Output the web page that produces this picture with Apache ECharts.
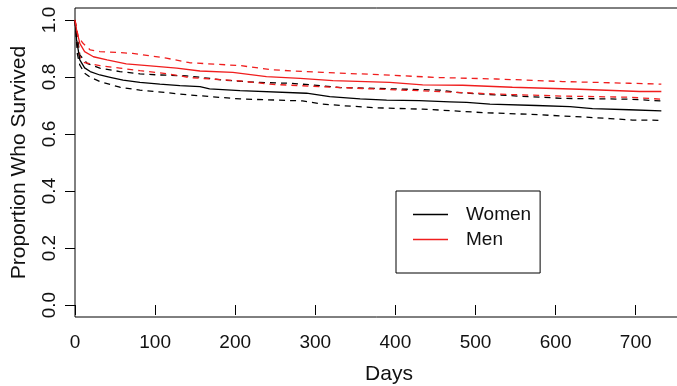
<!DOCTYPE html>
<html>
<head>
<meta charset="utf-8">
<script src="https://cdn.jsdelivr.net/npm/echarts@6/dist/echarts.min.js"></script>
<style>
  html, body { margin: 0; padding: 0; background: #fff; }
  #chart { width: 677px; height: 386px; }
</style>
</head>
<body>
<div id="chart"></div>
<script>
// Kaplan-Meier survival estimates with 95% confidence bands, [day, proportion]
const womenSurv = [[0,1],[2,0.93],[4,0.895],[6,0.86],[12,0.832],[19,0.819],[31,0.807],[44,0.799],[60,0.789],[81,0.781],[106,0.775],[131,0.770],[156,0.766],[168,0.758],[206,0.752],[289,0.743],[318,0.731],[356,0.723],[389,0.719],[430,0.717],[468,0.713],[489,0.711],[518,0.705],[576,0.700],[618,0.696],[646,0.689],[692,0.685],[732,0.681]];
const womenLower = [[0,1],[3,0.88],[6,0.842],[12,0.813],[19,0.799],[31,0.784],[56,0.764],[81,0.754],[114,0.745],[143,0.737],[206,0.723],[284,0.716],[309,0.705],[331,0.700],[376,0.692],[434,0.687],[455,0.684],[509,0.675],[568,0.669],[638,0.659],[668,0.654],[696,0.649],[732,0.648]];
const womenUpper = [[0,1],[3,0.94],[6,0.877],[15,0.848],[31,0.831],[56,0.819],[81,0.811],[106,0.807],[139,0.804],[156,0.799],[185,0.789],[227,0.781],[268,0.778],[297,0.772],[331,0.763],[376,0.760],[455,0.754],[480,0.745],[526,0.737],[609,0.725],[692,0.722],[732,0.716]];
const menSurv = [[0,1],[2,0.965],[6,0.918],[12,0.889],[23,0.871],[40,0.860],[64,0.846],[94,0.839],[127,0.831],[156,0.821],[197,0.816],[239,0.801],[281,0.795],[322,0.787],[393,0.781],[434,0.772],[484,0.771],[546,0.764],[630,0.757],[705,0.749],[732,0.749]];
const menLower = [[0,1],[3,0.92],[6,0.87],[12,0.85],[31,0.84],[56,0.831],[81,0.822],[114,0.812],[143,0.798],[206,0.786],[247,0.774],[309,0.766],[372,0.758],[455,0.749],[526,0.740],[609,0.733],[692,0.729],[732,0.722]];
const menUpper = [[0,1],[4,0.941],[10,0.918],[19,0.895],[31,0.889],[72,0.883],[114,0.866],[143,0.850],[206,0.840],[247,0.825],[309,0.816],[372,0.809],[455,0.798],[526,0.793],[609,0.784],[692,0.778],[732,0.775]];

const xTicks = [0, 100, 200, 300, 400, 500, 600, 700];
const yTicks = [0, 0.2, 0.4, 0.6, 0.8, 1.0];

const FONT = 'Liberation Sans, Arial, sans-serif';
const TEXT = '#111';
const RED = '#f01e1e';

function curve(name, data, color, dashed) {
  return {
    name: name,
    type: 'line',
    data: data,
    symbol: 'none',
    silent: true,
    animation: false,
    lineStyle: { color: color, width: 1.3, type: dashed ? [6, 5] : 'solid' },
    itemStyle: { color: color }
  };
}

const chart = echarts.init(document.getElementById('chart'), null, { renderer: 'canvas' });
chart.setOption({
  animation: false,
  backgroundColor: '#fff',
  // plot box runs past the right edge of the canvas
  grid: {
    left: 75, top: 8, width: 628, height: 309,
    outerBoundsMode: 'none',
    containLabel: false,
    show: true, borderColor: '#000', borderWidth: 1, backgroundColor: 'transparent'
  },
  legend: {
    data: ['Women', 'Men'],
    orient: 'vertical',
    left: 396, top: 191,
    padding: [14, 9, 24, 17],
    itemGap: 6,
    icon: 'rect',
    itemWidth: 35, itemHeight: 1.3,
    borderColor: '#000', borderWidth: 1,
    selectedMode: false,
    textStyle: { fontFamily: FONT, fontSize: 19, color: TEXT, padding: [0, 0, 0, 13] }
  },
  xAxis: {
    type: 'value',
    min: 0, max: 784,
    name: 'Days',
    nameLocation: 'middle',
    nameGap: 47,
    nameTextStyle: { fontFamily: FONT, fontSize: 21, color: TEXT },
    axisLine: { show: false },
    axisTick: { show: true, length: 10, lineStyle: { color: '#000' }, customValues: xTicks },
    axisLabel: { fontFamily: FONT, fontSize: 19, color: TEXT, margin: 16, customValues: xTicks },
    splitLine: { show: false }
  },
  yAxis: {
    type: 'value',
    min: -0.042, max: 1.042,
    name: 'Proportion Who Survived',
    nameLocation: 'middle',
    nameGap: 45,
    nameTextStyle: { fontFamily: FONT, fontSize: 21, color: TEXT },
    axisLine: { show: false },
    axisTick: { show: true, length: 10, lineStyle: { color: '#000' }, customValues: yTicks },
    axisLabel: {
      fontFamily: FONT, fontSize: 19, color: TEXT, margin: 16, rotate: 90,
      customValues: yTicks,
      formatter: function (v) { return v.toFixed(1); }
    },
    splitLine: { show: false }
  },
  series: [
    curve('Women lower', womenLower, '#000', true),
    curve('Women upper', womenUpper, '#000', true),
    curve('Men lower', menLower, RED, true),
    curve('Men upper', menUpper, RED, true),
    curve('Women', womenSurv, '#000', false),
    curve('Men', menSurv, RED, false)
  ]
});
</script>
</body>
</html>
